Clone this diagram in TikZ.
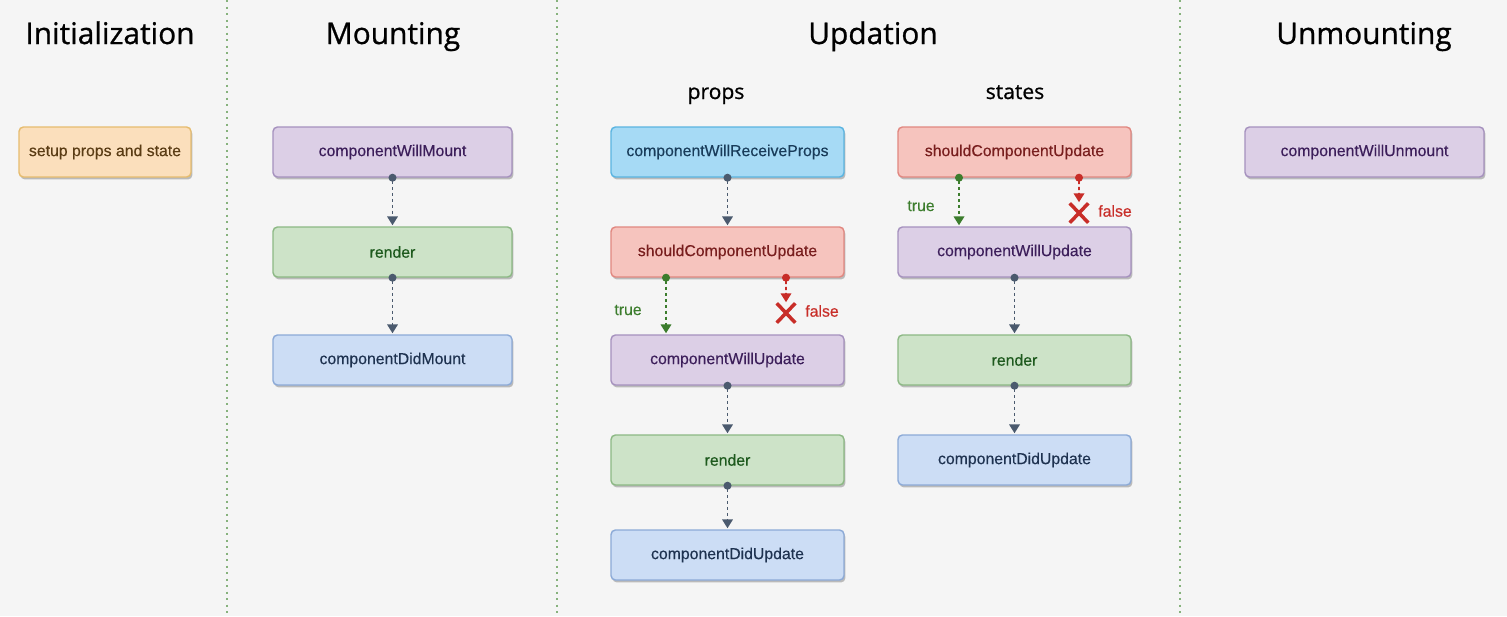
\documentclass[tikz,border=0pt]{standalone}
\usepackage{fontspec}
\setmainfont{Liberation Sans}
\newfontfamily\headfont{Open Sans}[FakeBold=0.8]
\newfontfamily\boxfont{Liberation Sans}[FakeBold=0.35]
\usepackage{tikz}
\usetikzlibrary{arrows.meta,positioning,calc,shadows,shapes.misc}
\definecolor{bgG}{RGB}{245,245,245}
\definecolor{sepG}{RGB}{135,178,125}
\definecolor{purF}{RGB}{220,207,230}
\definecolor{purD}{RGB}{165,145,190}
\definecolor{purT}{RGB}{60,30,90}
\definecolor{grnF}{RGB}{205,227,200}
\definecolor{grnD}{RGB}{140,184,132}
\definecolor{grnT}{RGB}{30,90,30}
\definecolor{bluF}{RGB}{204,221,245}
\definecolor{bluD}{RGB}{140,170,215}
\definecolor{bluT}{RGB}{30,50,80}
\definecolor{cynF}{RGB}{166,218,245}
\definecolor{cynD}{RGB}{90,180,225}
\definecolor{cynT}{RGB}{25,60,90}
\definecolor{redF}{RGB}{246,196,190}
\definecolor{redD}{RGB}{225,135,128}
\definecolor{redT}{RGB}{120,30,30}
\definecolor{orgF}{RGB}{251,223,188}
\definecolor{orgD}{RGB}{230,188,110}
\definecolor{orgT}{RGB}{90,60,20}
\definecolor{arrG}{RGB}{75,90,110}
\definecolor{okG}{RGB}{60,125,45}
\definecolor{noR}{RGB}{200,45,40}

\begin{document}
\begin{tikzpicture}[
  x=0.02cm,y=-0.02cm,
  box/.style={rectangle,rounded corners=2.5pt,draw,line width=0.8pt,minimum height=1cm,inner sep=0pt,
    font=\boxfont\fontsize{9}{10}\selectfont,
    drop shadow={shadow xshift=0.8pt,shadow yshift=-1.4pt,opacity=0.35,fill=black!70}},
  wide/.style={box,minimum width=4.78cm},
  narrow/.style={box,minimum width=4.66cm},
  pur/.style={fill=purF,draw=purD,text=purT},
  grn/.style={fill=grnF,draw=grnD,text=grnT},
  blu/.style={fill=bluF,draw=bluD,text=bluT},
  cyn/.style={fill=cynF,draw=cynD,text=cynT},
  rd/.style={fill=redF,draw=redD,text=redT},
  org/.style={fill=orgF,draw=orgD,text=orgT},
  ttl/.style={anchor=base,font=\headfont\fontsize{17}{20}\selectfont},
  sub/.style={anchor=base,font=\headfont\fontsize{12}{14}\selectfont},
  flow/.style={{Circle[length=4.5pt]}-{Triangle[length=5pt,width=6pt]},arrG,line width=0.9pt,
    dash pattern=on 1.8pt off 1.6pt,shorten <=-2.25pt,shorten >=0.6pt},
  yes/.style={flow,okG},
  no/.style={flow,noR},
  xmark/.style={cross out,draw=noR,line width=2pt,minimum width=0.3cm,minimum height=0.32cm,inner sep=0pt},
  lbl/.style={font=\boxfont\fontsize{9}{10}\selectfont},
  sep/.style={sepG,line width=1.1pt,dash pattern=on 1.3pt off 2.4pt}
]
  % ---------------- CANVAS ----------------
  \fill[bgG] (0,0) rectangle (1507,616);
  \useasboundingbox (0,0) rectangle (1507,616);
  \foreach \x in {227,557,1180}{\draw[sep] (\x,0) -- (\x,616);}
  % ---------------- TITLES ----------------
  \node[ttl] (tInit) at (110,44) {Initialization};
  \node[ttl] (tMount) at (393,44) {Mounting};
  \node[ttl] (tUpd) at (873,44) {Updation};
  \node[ttl] (tUnm) at (1364,44) {Unmounting};
  \node[sub] (sProps) at (716,99) {props};
  \node[sub] (sStates) at (1015,99) {states};
  % ---------------- INITIALIZATION ----------------
  \node[box,org,minimum width=3.44cm] (setup) at (105,152) {setup props and state};
  % ---------------- MOUNTING ----------------
  \foreach \id/\y/\sty/\txt in {wm/152/pur/componentWillMount,r/252/grn/render,dm/360/blu/componentDidMount}{
    \node[wide,\sty] (m\id) at (392.5,\y) {\txt};}
  \foreach \a/\b in {wm/r,r/dm}{\draw[flow] (m\a.south) -- (m\b.north);}
  % ---------------- UPDATION: props ----------------
  \foreach \id/\y/\sty/\txt in {wr/152/cyn/componentWillReceiveProps,su/252/rd/shouldComponentUpdate,
      wu/360/pur/componentWillUpdate,r/460/grn/render,du/555/blu/componentDidUpdate}{
    \node[narrow,\sty] (p\id) at (727.5,\y) {\txt};}
  \foreach \a/\b in {wr/su,wu/r,r/du}{\draw[flow] (p\a.south) -- (p\b.north);}
  \draw[yes] ($(psu.south)+(-61.5,0)$) -- ($(pwu.north)+(-61.5,0)$);
  \node[xmark] (pfx) at (786,313) {};
  \draw[no] ($(psu.south)+(58.5,0)$) -- (pfx.north);
  \node[lbl,text=okG] (ptrue) at (628,310) {true};
  \node[lbl,text=noR] (pfalse) at (822,311) {false};
  % ---------------- UPDATION: states ----------------
  \foreach \id/\y/\sty/\txt in {su/152/rd/shouldComponentUpdate,wu/252/pur/componentWillUpdate,
      r/360/grn/render,du/460/blu/componentDidUpdate}{
    \node[narrow,\sty] (s\id) at (1014.5,\y) {\txt};}
  \foreach \a/\b in {wu/r,r/du}{\draw[flow] (s\a.south) -- (s\b.north);}
  \draw[yes] ($(ssu.south)+(-55.5,0)$) -- ($(swu.north)+(-55.5,0)$);
  \node[xmark] (sfx) at (1079,213) {};
  \draw[no] ($(ssu.south)+(64.5,0)$) -- (sfx.north);
  \node[lbl,text=okG] (strue) at (921,206) {true};
  \node[lbl,text=noR] (sfalse) at (1115,211) {false};
  % ---------------- UNMOUNTING ----------------
  \node[wide,pur] (uwu) at (1364.5,152) {componentWillUnmount};
\end{tikzpicture}
\end{document}
